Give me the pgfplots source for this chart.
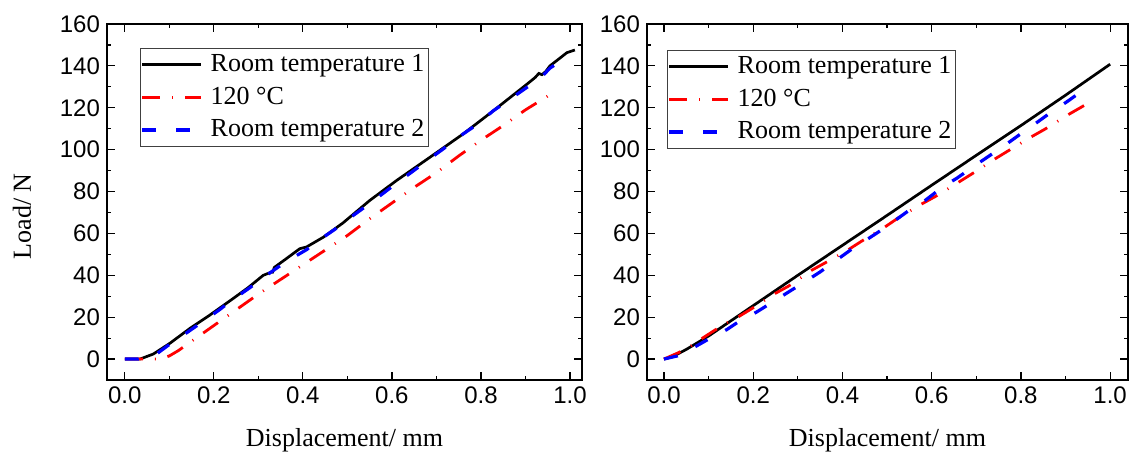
\documentclass[border=0pt]{standalone}
\usepackage{fontspec}
\setmainfont{Liberation Serif}
\newfontfamily\arial{Liberation Sans}
\usepackage{pgfplots}
\usepackage{pgfplotstable}
\pgfplotsset{compat=1.18}

% left panel
\pgfplotstableread{
x y
0 0
0.034 0
0.064 2.4
0.101 7.5
0.146 14.6
0.191 21
0.24 28.4
0.277 34.1
0.311 40
0.33 41.6
0.332 41.5
0.336 43.8
0.36 47.5
0.393 52.7
0.408 53.5
0.446 58.2
0.49 65
0.55 75.7
0.61 85.2
0.685 96.3
0.76 107.5
0.828 118.6
0.903 131.2
0.922 134.5
0.93 136.4
0.937 135.8
0.945 137.2
0.955 140
0.993 146.3
1.011 147.6
}\leftrta
\pgfplotstableread{
x y
0 0
0.08 0
0.1 1.5
0.12 4
0.15 8.5
0.2 16
0.25 23.5
0.3 31
0.35 38
0.4 45
0.45 52
0.5 59
0.55 67
0.6 74.5
0.65 82
0.7 89
0.75 97
0.8 104.5
0.85 111.5
0.9 119
0.951 125.7
}\lefthot
\pgfplotstableread{
x y
0 0
0.03 0
0.071 2.4
0.101 7.1
0.142 13
0.169 17
0.213 23.6
0.24 28
0.281 34.1
0.311 38.9
0.345 44
0.367 47.1
0.408 52.2
0.438 57
0.479 63
0.506 67.5
0.551 74.4
0.577 78.6
0.618 85.2
0.644 89.2
0.689 96.3
0.715 100.3
0.76 107.5
0.787 111.4
0.828 118.6
0.858 123
0.903 129.7
0.929 133.2
0.955 138.9
0.985 143.2
}\leftrtb

% right panel
\pgfplotstableread{
x y
0 0
0.02 1.2
0.05 4.6
0.1 11
0.2 25.5
0.3 40
0.4 54.3
0.5 68.6
0.6 83
0.7 97.3
0.8 111.5
0.9 126
1.0 140.8
}\rightrta
\pgfplotstableread{
x y
0 0
0.032 3
0.058 5.9
0.085 9.8
0.114 13.8
0.141 17.3
0.167 20.2
0.197 24.1
0.249 31.3
0.279 34.8
0.331 42.4
0.361 45.9
0.413 52.2
0.443 56.3
0.492 62.6
0.525 67.4
0.578 74.1
0.608 77.6
0.66 84.4
0.69 88.4
0.742 95.6
0.772 99.5
0.824 106.2
0.854 109.8
0.906 116.7
0.937 120.5
0.963 123.7
}\righthot
\pgfplotstableread{
x y
0 0
0.03 1.5
0.07 5.9
0.099 9.4
0.141 14.1
0.167 17.8
0.208 22.5
0.238 26.5
0.279 32
0.309 36
0.35 41.6
0.376 45.6
0.417 51.9
0.443 55.4
0.488 61.7
0.518 66.2
0.559 72.5
0.585 75.7
0.626 82.4
0.656 86.3
0.697 92.4
0.724 96.3
0.768 102.7
0.794 106.7
0.836 113
0.862 117
0.906 123.3
0.94 128.5
}\rightrtb

\pgfplotsset{
  panel/.style={
    scale only axis,
    height=178pt,
    ymin=-10, ymax=160,
    xtick={0,0.2,0.4,0.6,0.8,1.0},
    ytick={0,20,40,60,80,100,120,140,160},
    minor x tick num=1,
    minor y tick num=1,
    tick align=inside,
    major tick length=4pt,
    minor tick length=2pt,
    axis line style={line width=0.8pt},
    every tick/.style={black, line width=0.6pt},
    ticklabel style={font=\arial\fontsize{12}{14}\selectfont},
    /pgf/number format/assume math mode=true,
    x tick label style={/pgf/number format/fixed, /pgf/number format/fixed zerofill, /pgf/number format/precision=1},
    label style={font=\fontsize{13}{15.6}\selectfont},
    xlabel={Displacement/ mm},
    x label style={at={(axis description cs:0.5,0)}, yshift=-30pt, anchor=center},
    legend style={anchor=north west, font=\fontsize{13}{15.6}\selectfont,
      draw=black!75, line width=0.5pt, inner sep=0pt, row sep=0pt, column sep=2pt,
      cells={anchor=west}, nodes={inner sep=2pt, text height=9.5pt, text depth=2.8pt}},
    legend image code/.code={\draw[##1] (0pt,0pt) -- (29.5pt,0pt);},
  },
  rt1/.style={black, line width=1.35pt},
  hot/.style={red, line width=1.4pt, dash pattern=on 9pt off 6pt on 0.5pt off 6pt},
  rt2/.style={blue, line width=1.6pt, dash pattern=on 7pt off 10pt},
}

\begin{document}
\begin{tikzpicture}
\path[use as bounding box] (0,0) rectangle (566pt,228.5pt);

\begin{axis}[panel,
    at={(53.5pt,38.5pt)}, anchor=south west,
    width=237.5pt,
    xmin=-0.04, xmax=1.027,
    ylabel={Load/ N},
    y label style={at={(axis description cs:-0.179,0.46)}, anchor=center},
    legend style={at={(0,1)}, xshift=16.5pt, yshift=-12pt},
]
\addplot[rt1] table {\leftrta};
\addplot[hot] table {\lefthot};
\addplot[rt2] table {\leftrtb};
\legend{Room temperature 1, 120 °C, Room temperature 2}
\end{axis}

\begin{axis}[panel,
    at={(323.5pt,38.5pt)}, anchor=south west,
    width=240.5pt,
    xmin=-0.038, xmax=1.04,
    legend style={at={(0,1)}, xshift=10pt, yshift=-13pt},
]
\addplot[rt1] table {\rightrta};
\addplot[hot] table {\righthot};
\addplot[rt2] table {\rightrtb};
\legend{Room temperature 1, 120 °C, Room temperature 2}
\end{axis}
\end{tikzpicture}
\end{document}
